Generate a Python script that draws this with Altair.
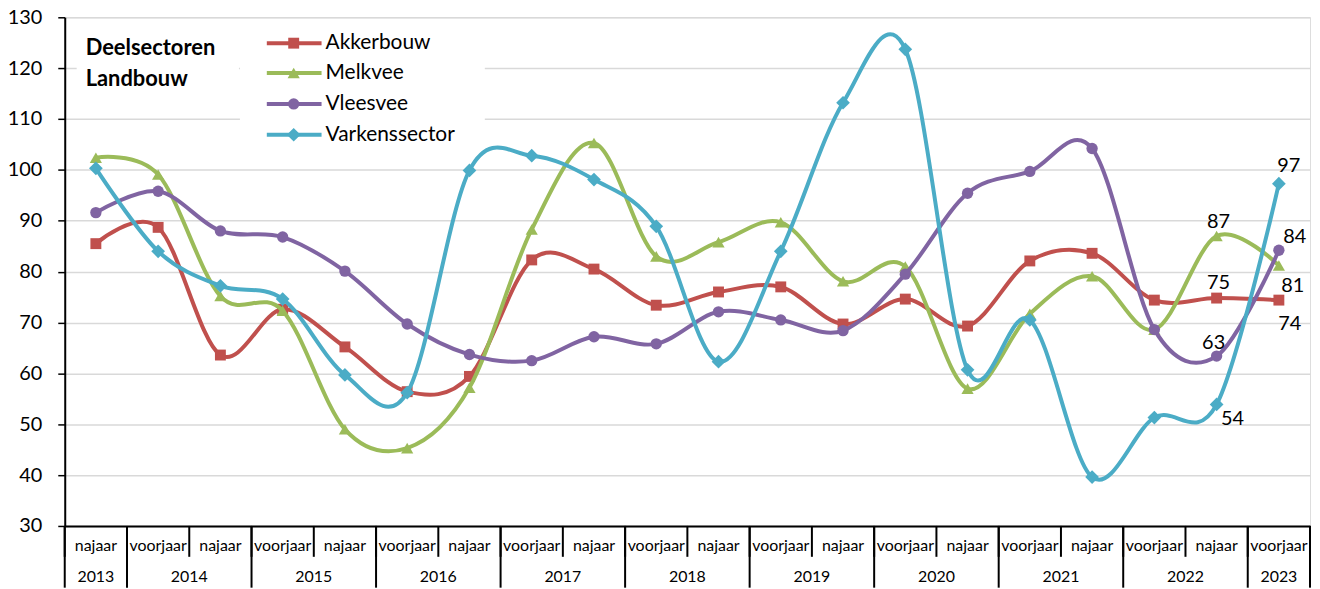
import altair as alt
import pandas as pd

# ---------------- data ----------------
seasons = ["najaar"] + ["voorjaar", "najaar"] * 9 + ["voorjaar"]
years = [2013] + [y for y in range(2014, 2023) for _ in range(2)] + [2023]
periods = [f"{s} {y}" for s, y in zip(seasons, years)]

series_names = ["Akkerbouw", "Melkvee", "Vleesvee", "Varkenssector"]
akkerbouw = [85.5, 88.7, 63.6, 72.6, 65.2, 56.4, 59.4, 82.3, 80.5, 73.4,
             76.0, 77.0, 69.7, 74.6, 69.3, 82.1, 83.6, 74.4, 74.8, 74.4]
melkvee = [102.4, 99.1, 75.2, 72.3, 49.0, 45.3, 57.2, 88.3, 105.3, 83.0,
           85.8, 89.7, 78.1, 81.0, 57.0, 71.7, 79.1, 68.6, 87.0, 81.2]
vleesvee = [91.6, 95.8, 88.0, 86.8, 80.1, 69.7, 63.7, 62.5, 67.2, 65.8,
            72.1, 70.5, 68.4, 79.5, 95.4, 99.7, 104.2, 68.6, 63.4, 84.2]
varkens = [100.3, 84.0, 77.2, 74.6, 59.7, 56.2, 99.9, 102.8, 98.1, 88.9,
           62.3, 84.0, 113.2, 123.7, 60.7, 70.5, 39.6, 51.3, 53.9, 97.3]
values = [akkerbouw, melkvee, vleesvee, varkens]

year_labels = [str(y) for y in range(2013, 2024)]

# ---------------- style ----------------
colors = ["#C0504D", "#9BBB59", "#8064A2", "#4BACC6"]
shapes = ["square", "triangle-up", "circle", "diamond"]
sizes = [120, 150, 130, 190]
FONT = "Lato"
W, H = 1251, 511
STEP = W / len(periods)
HALF = STEP / 2

# labelled points: (series index, period index) -> (dx, dy)
label_offsets = {
    (3, 19): (10, -18), (2, 19): (16, -13), (1, 19): (14, 21), (0, 19): (11, 24),
    (1, 18): (2, -14), (0, 18): (2, -15), (2, 18): (-3, -13), (3, 18): (16, 15),
}

rows = []
for name, vals in zip(series_names, values):
    for p, v in zip(periods, vals):
        rows.append({"sector": name, "periode": p, "waarde": v})
df = pd.DataFrame(rows)

x_scale = alt.Scale(type="point", domain=periods, padding=0.5)
y_scale = alt.Scale(domain=[30, 130], nice=False, zero=False)

x_axis = alt.Axis(title=None, labels=False, ticks=False, grid=False,
                  domainColor="black", domainWidth=2)
x_enc = alt.X("periode:N", scale=x_scale, sort=periods, axis=x_axis)
y_enc = alt.Y(
    "waarde:Q", scale=y_scale,
    axis=alt.Axis(
        title=None, values=list(range(30, 131, 10)), gridColor="#d9d9d9",
        gridWidth=1.5, tickColor="black", tickSize=7, tickWidth=1.5,
        domainColor="black", domainWidth=2, labelFontSize=20, labelFont=FONT,
        labelColor="black", labelPadding=16,
    ),
)

layers = []

# white boxes behind title and legend
one = pd.DataFrame({"a": [0]})
layers.append(alt.Chart(one).mark_rect(color="white").encode(
    x=alt.value(12), x2=alt.value(175), y=alt.value(2), y2=alt.value(86)))
layers.append(alt.Chart(one).mark_rect(color="white").encode(
    x=alt.value(176), x2=alt.value(422), y=alt.value(2), y2=alt.value(135)))

# series
for i, name in enumerate(series_names):
    base = alt.Chart(df).transform_filter(alt.datum.sector == name)
    layers.append(base.mark_line(interpolate="cardinal", strokeWidth=4,
                                 color=colors[i]).encode(x=x_enc, y=y_enc))
    layers.append(base.mark_point(filled=True, opacity=1, shape=shapes[i],
                                  size=sizes[i], color=colors[i]).encode(x=x_enc, y=y_enc))

# data labels
for (si, pi), (dx, dy) in label_offsets.items():
    name = series_names[si]
    per = periods[pi]
    layers.append(
        alt.Chart(df).transform_filter(
            (alt.datum.sector == name) & (alt.datum.periode == per)
        ).mark_text(dx=dx, dy=dy, fontSize=20, font=FONT, color="black")
        .encode(x=x_enc, y=y_enc, text=alt.Text("waarde:Q", format=".0f"))
    )

# legend (manual, Excel-style line-through-marker)
leg_y = [26, 56, 87, 118]
for i, name in enumerate(series_names):
    ld = pd.DataFrame({"sector": [name]})
    layers.append(alt.Chart(ld).mark_rule(strokeWidth=4, color=colors[i]).encode(
        x=alt.value(203), x2=alt.value(258), y=alt.value(leg_y[i])))
    layers.append(alt.Chart(ld).mark_point(filled=True, opacity=1, shape=shapes[i],
                                           size=sizes[i], color=colors[i]).encode(
        x=alt.value(230), y=alt.value(leg_y[i])))
    layers.append(alt.Chart(ld).mark_text(align="left", baseline="middle", fontSize=21,
                                          font=FONT, color="black").encode(
        x=alt.value(262), y=alt.value(leg_y[i]), text="sector:N"))

# title inside the chart
title_lines = ["Deelsectoren", "Landbouw"]
for j, t in enumerate(title_lines):
    layers.append(alt.Chart(pd.DataFrame({"t": [t]})).mark_text(
        align="left", baseline="middle", fontSize=22, fontWeight="bold",
        font=FONT, color="black").encode(
        x=alt.value(21), y=alt.value(31 + j * 31), text="t:N"))

# two-level category axis drawn as a table
per_df = pd.DataFrame({"periode": periods, "seizoen": seasons})
layers.append(alt.Chart(per_df).mark_rule(color="black", strokeWidth=2, xOffset=-HALF).encode(
    x=x_enc, y=alt.value(H), y2=alt.value(H + 31)))
layers.append(alt.Chart(per_df).mark_text(fontSize=16, font=FONT, color="black",
                                          baseline="middle").encode(
    x=x_enc, y=alt.value(H + 20), text="seizoen:N"))

sep_periods = [periods[0]] + [p for p in periods if p.startswith("voorjaar")]
sep_df = pd.DataFrame({"periode": sep_periods})
layers.append(alt.Chart(sep_df).mark_rule(color="black", strokeWidth=2, xOffset=-HALF).encode(
    x=x_enc, y=alt.value(H), y2=alt.value(H + 62)))
layers.append(alt.Chart(pd.DataFrame({"periode": [periods[-1]]})).mark_rule(
    color="black", strokeWidth=2, xOffset=HALF).encode(
    x=x_enc, y=alt.value(H), y2=alt.value(H + 62)))

edge_years = pd.DataFrame({"periode": [periods[0], periods[-1]],
                           "jaar": [year_labels[0], year_labels[-1]]})
mid_years = pd.DataFrame({"periode": [p for p in periods[1:-1] if p.startswith("najaar")],
                          "jaar": year_labels[1:-1]})
layers.append(alt.Chart(edge_years).mark_text(fontSize=16, font=FONT, color="black",
                                              baseline="middle").encode(
    x=x_enc, y=alt.value(H + 51), text="jaar:N"))
layers.append(alt.Chart(mid_years).mark_text(fontSize=16, font=FONT, color="black",
                                             baseline="middle", xOffset=-HALF).encode(
    x=x_enc, y=alt.value(H + 51), text="jaar:N"))

chart = alt.layer(*layers).properties(
    width=W, height=H,
    autosize=alt.AutoSizeParams(type="none"),
    padding={"left": 57, "top": 8, "right": 2, "bottom": 62},
).configure_view(stroke="black", strokeWidth=2).configure(background="white")

chart.save("out.html", embed_options={"renderer": "svg", "actions": False})
